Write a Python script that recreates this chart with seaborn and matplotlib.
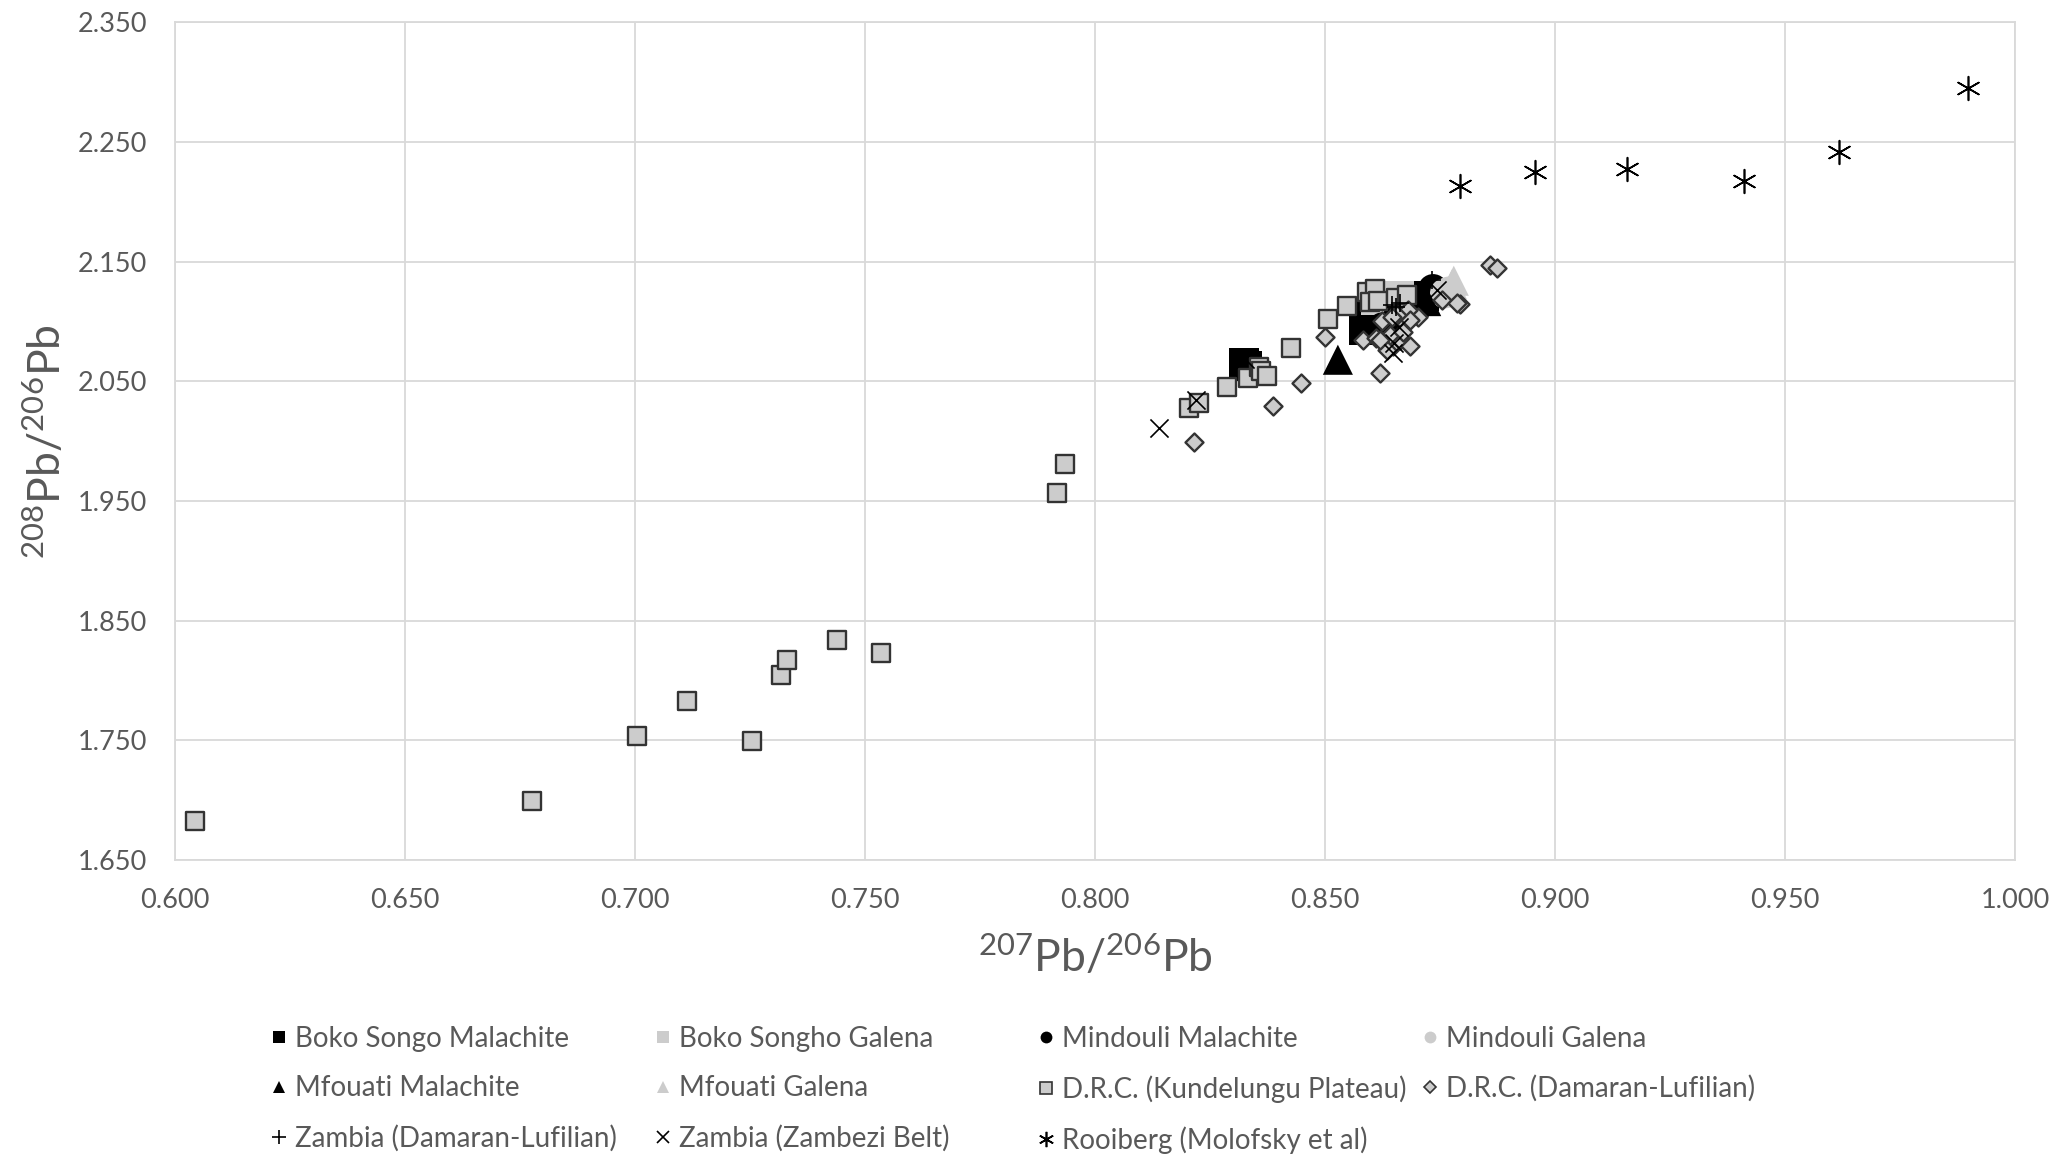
import matplotlib
matplotlib.use("Agg")
import matplotlib.pyplot as plt
from matplotlib.lines import Line2D
import seaborn as sns
import pandas as pd

# ---- data: 207Pb/206Pb (x) and 208Pb/206Pb (y) per sample group ----
boko_mal_x = [0.8324, 0.8331, 0.8585, 0.8590, 0.8600, 0.8695, 0.8715]
boko_mal_y = [2.0656, 2.0630, 2.0930, 2.1000, 2.1080, 2.1190, 2.1210]

boko_gal_x = [0.8610, 0.8660]
boko_gal_y = [2.1180, 2.1210]

mind_mal_x = [0.8625, 0.8650, 0.8660, 0.8700, 0.8735]
mind_mal_y = [2.0950, 2.0900, 2.1050, 2.1120, 2.1270]

mind_gal_x = [0.8761, 0.8770]
mind_gal_y = [2.1235, 2.1250]

mfou_mal_x = [0.8528, 0.8720]
mfou_mal_y = [2.0680, 2.1170]

mfou_gal_x = [0.8776, 0.8780]
mfou_gal_y = [2.1310, 2.1340]

drc_kun_x = [0.6044, 0.6775, 0.7004, 0.7113, 0.7255, 0.7318, 0.7330, 0.7440,
             0.7534, 0.7918, 0.7935, 0.8205, 0.8226, 0.8288, 0.8333, 0.8357,
             0.8360, 0.8373, 0.8427, 0.8507, 0.8547, 0.8591, 0.8609, 0.8598,
             0.8616, 0.8654, 0.8679]
drc_kun_y = [1.6822, 1.6993, 1.7538, 1.7830, 1.7498, 1.8045, 1.8173, 1.8340,
             1.8233, 1.9565, 1.9807, 2.0275, 2.0317, 2.0450, 2.0526, 2.0618,
             2.0590, 2.0540, 2.0776, 2.1021, 2.1132, 2.1244, 2.1272, 2.1166,
             2.1172, 2.1194, 2.1222]

drc_dam_x = [0.8215, 0.8386, 0.8447, 0.8500, 0.8620, 0.8859, 0.8873, 0.8793,
             0.8623, 0.8583, 0.8611, 0.8648, 0.8634, 0.8663, 0.8685, 0.8674,
             0.8703, 0.8681, 0.8641, 0.8670, 0.8656, 0.8645, 0.8620, 0.8754,
             0.8786, 0.8685]
drc_dam_y = [1.9990, 2.0297, 2.0489, 2.0874, 2.0567, 2.1472, 2.1445, 2.1147,
             2.1006, 2.0841, 2.0864, 2.0796, 2.0763, 2.0847, 2.0791, 2.0986,
             2.1041, 2.1096, 2.0888, 2.0915, 2.1055, 2.1040, 2.0846, 2.1180,
             2.1153, 2.1013]

zam_dam_x = [0.8645, 0.8654, 0.8663, 0.8732]
zam_dam_y = [2.1140, 2.1120, 2.1150, 2.1348]

zam_zam_x = [0.8139, 0.8220, 0.8326, 0.8648, 0.8660, 0.8650, 0.8743]
zam_zam_y = [2.0108, 2.0340, 2.0690, 2.0735, 2.0950, 2.0820, 2.1260]

rooi_x = [0.8794, 0.8956, 0.9156, 0.9410, 0.9618, 0.9899]
rooi_y = [2.2132, 2.2252, 2.2274, 2.2177, 2.2419, 2.2949]

x_ticks = [0.600, 0.650, 0.700, 0.750, 0.800, 0.850, 0.900, 0.950, 1.000]
y_ticks = [1.650, 1.750, 1.850, 1.950, 2.050, 2.150, 2.250, 2.350]

# ---- style ----
sns.set_theme(style="white")
plt.rcParams["font.family"] = ["Lato", "DejaVu Sans"]
plt.rcParams["mathtext.fontset"] = "custom"
plt.rcParams["mathtext.rm"] = "Lato"
plt.rcParams["mathtext.default"] = "regular"

TXT = "#595959"
GRID = "#d9d9d9"
BLACK = "#000000"
LIGHT = "#cccccc"
EDGE = "#333333"

fig = plt.figure(figsize=(20.55, 11.54), dpi=100)
ax = fig.add_axes([0.0852, 0.2548, 0.8953, 0.7259])

# (label, x, y, marker, size, face, edge, linewidth)
series = [
    ("Boko Songo Malachite", boko_mal_x, boko_mal_y, "s", 470, BLACK, "none", 0),
    ("Boko Songho Galena", boko_gal_x, boko_gal_y, "s", 470, LIGHT, "none", 0),
    ("Mindouli Malachite", mind_mal_x, mind_mal_y, "o", 470, BLACK, "none", 0),
    ("Mindouli Galena", mind_gal_x, mind_gal_y, "o", 470, LIGHT, "none", 0),
    ("Mfouati Malachite", mfou_mal_x, mfou_mal_y, "^", 470, BLACK, "none", 0),
    ("Mfouati Galena", mfou_gal_x, mfou_gal_y, "^", 470, LIGHT, "none", 0),
    ("D.R.C. (Kundelungu Plateau)", drc_kun_x, drc_kun_y, "s", 165, LIGHT, EDGE, 1.7),
    ("D.R.C. (Damaran-Lufilian)", drc_dam_x, drc_dam_y, "D", 84, LIGHT, EDGE, 1.7),
    ("Zambia (Damaran-Lufilian)", zam_dam_x, zam_dam_y, "+", 170, BLACK, BLACK, 1.2),
    ("Zambia (Zambezi Belt)", zam_zam_x, zam_zam_y, "x", 170, BLACK, BLACK, 1.2),
    ("Rooiberg (Molofsky et al)", rooi_x, rooi_y, (6, 2, 0), 290, BLACK, BLACK, 1.2),
]

for z, (lab, xs, ys, mk, sz, fc, ec, lw) in enumerate(series):
    df = pd.DataFrame({"x": xs, "y": ys})
    if mk in ("+", "x") or isinstance(mk, tuple):
        sns.scatterplot(data=df, x="x", y="y", ax=ax, marker=mk, s=sz,
                        color=fc, linewidth=lw, legend=False, zorder=3 + z)
    else:
        sns.scatterplot(data=df, x="x", y="y", ax=ax, marker=mk, s=sz,
                        facecolor=fc, edgecolor=ec, linewidth=lw,
                        legend=False, zorder=3 + z)

ax.set_xlim(0.600, 1.000)
ax.set_ylim(1.650, 2.350)
ax.set_xticks(x_ticks)
ax.set_yticks(y_ticks)
ax.set_xticklabels([f"{v:.3f}" for v in x_ticks])
ax.set_yticklabels([f"{v:.3f}" for v in y_ticks])
ax.tick_params(axis="both", length=0, pad=20, labelsize=19.5, labelcolor=TXT)
ax.grid(True, color=GRID, linewidth=1.3, zorder=0)
ax.set_axisbelow(True)
for sp in ax.spines.values():
    sp.set_color(GRID)
    sp.set_linewidth(1.3)

ax.set_xlabel(r"$^{207}$Pb/$^{206}$Pb", fontsize=32, color=TXT, va="center")
ax.set_ylabel(r"$^{208}$Pb/$^{206}$Pb", fontsize=32, color=TXT, va="center")
ax.xaxis.set_label_coords(0.5, -0.117)
ax.yaxis.set_label_coords(-0.070, 0.5)

# ---- legend: four equal-width columns below the plot ----
def handle(mk, fc, ec, lw, ms):
    if mk in ("+", "x") or isinstance(mk, tuple):
        return Line2D([], [], linestyle="none", marker=mk, color=fc,
                      markersize=ms, markeredgewidth=lw)
    return Line2D([], [], linestyle="none", marker=mk, markerfacecolor=fc,
                  markeredgecolor=ec if ec != "none" else fc,
                  markeredgewidth=lw if lw else 0.0, markersize=ms)

legend_ms = {"s": 8.5, "o": 8.5, "^": 8.5, "D": 6.5, "+": 10, "x": 8.5}
handles = []
for lab, xs, ys, mk, sz, fc, ec, lw in series:
    ms = legend_ms.get(mk, 11) if not isinstance(mk, tuple) else 11
    handles.append((handle(mk, fc, ec, min(lw, 1.2) if lw else 0, ms), lab))

columns = [[0, 4, 8], [1, 5, 9], [2, 6, 10], [3, 7]]
col_x = [269, 653, 1036, 1420]
for cx, idx in zip(col_x, columns):
    fig.legend([handles[i][0] for i in idx], [handles[i][1] for i in idx],
               loc="upper left", bbox_to_anchor=(cx / 2055, 1 - 1026 / 1154),
               frameon=False, fontsize=20, handlelength=0.7,
               handletextpad=0.25, borderpad=0, borderaxespad=0,
               labelspacing=0.84, labelcolor=TXT)

fig.savefig("out.png", dpi=100)
